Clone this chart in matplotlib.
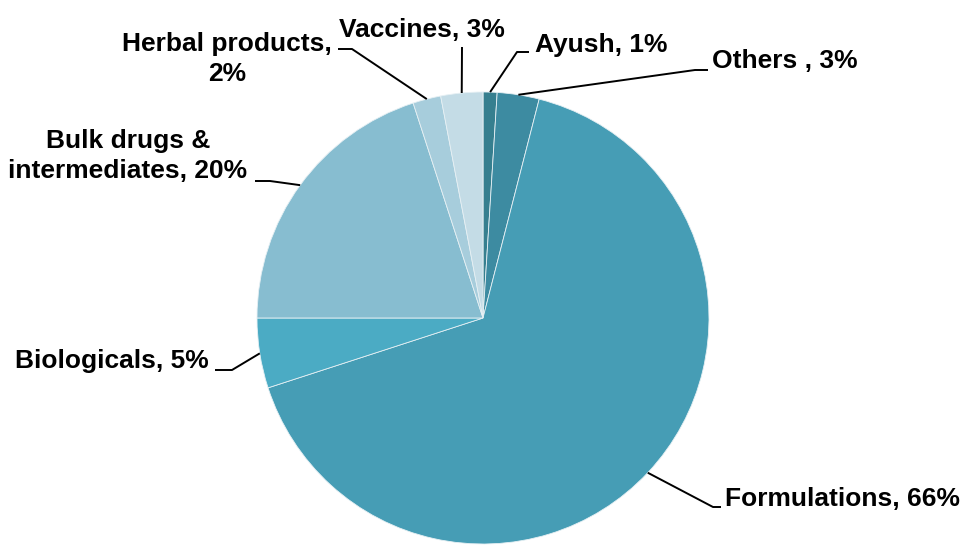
import numpy as np
import matplotlib
matplotlib.use("Agg")
import matplotlib.pyplot as plt

plt.rcParams['font.family'] = ['Liberation Sans', 'DejaVu Sans']

# Segment shares (%), clockwise from 12 o'clock
categories = ["Ayush", "Others ", "Formulations", "Biologicals",
              "Bulk drugs & intermediates", "Herbal products", "Vaccines"]
shares = [1, 3, 66, 5, 20, 2, 3]
label_texts = ["Ayush, 1%", "Others , 3%", "Formulations, 66%", "Biologicals, 5%",
               "Bulk drugs &\nintermediates, 20%", "Herbal products,\n2%", "Vaccines, 3%"]
colors = ["#367f8f", "#3d8ba1", "#469db5", "#4babc4", "#87bdd0", "#a7cddc", "#c4dce6"]

W, H = 966, 547
fig = plt.figure(figsize=(W / 100, H / 100), dpi=100)
ax = fig.add_axes([0, 0, 1, 1])

cx, cy, R = 483, H - 318, 226
wedges, _ = ax.pie(shares, colors=colors, startangle=90, counterclock=False,
                   center=(cx, cy), radius=R, frame=True,
                   wedgeprops=dict(edgecolor="#e6f0f4", linewidth=0.6))
ax.set_xlim(0, W)
ax.set_ylim(0, H)
ax.set_aspect("equal")
ax.axis("off")

# Leader elbow / end points and label baselines (pixel coords, y measured from top)
layout = [
    dict(elbow=(517, 52), end=(529, 52), text=(535, 52), ha="left"),
    dict(elbow=(695, 70), end=(708, 70), text=(712, 68), ha="left"),
    dict(elbow=(713, 507), end=(721, 507), text=(725, 506), ha="left"),
    dict(elbow=(232, 370), end=(215, 370), text=(209, 368), ha="right"),
    dict(elbow=(270, 181), end=(255, 181), text=(128, 178), ha="center"),
    dict(elbow=(352, 49), end=(338, 49), text=(227, 81), ha="center"),
    dict(elbow=(462, 47), end=(462, 47), text=(422, 37), ha="center"),
]

for w, lab, lay in zip(wedges, label_texts, layout):
    mid = np.deg2rad((w.theta1 + w.theta2) / 2)
    sx, sy = cx + R * np.cos(mid), cy + R * np.sin(mid)
    ex, ey = lay["elbow"]
    tx, ty = lay["end"]
    ax.plot([sx, ex, tx], [sy, H - ey, H - ty], color="black", lw=1.4,
            solid_capstyle="butt", zorder=3)
    px, py = lay["text"]
    ax.text(px, H - py, lab, ha=lay["ha"], va="baseline", fontsize=19,
            fontweight="bold", color="black", linespacing=1.32,
            multialignment="center")

fig.savefig("out.png", dpi=100)
